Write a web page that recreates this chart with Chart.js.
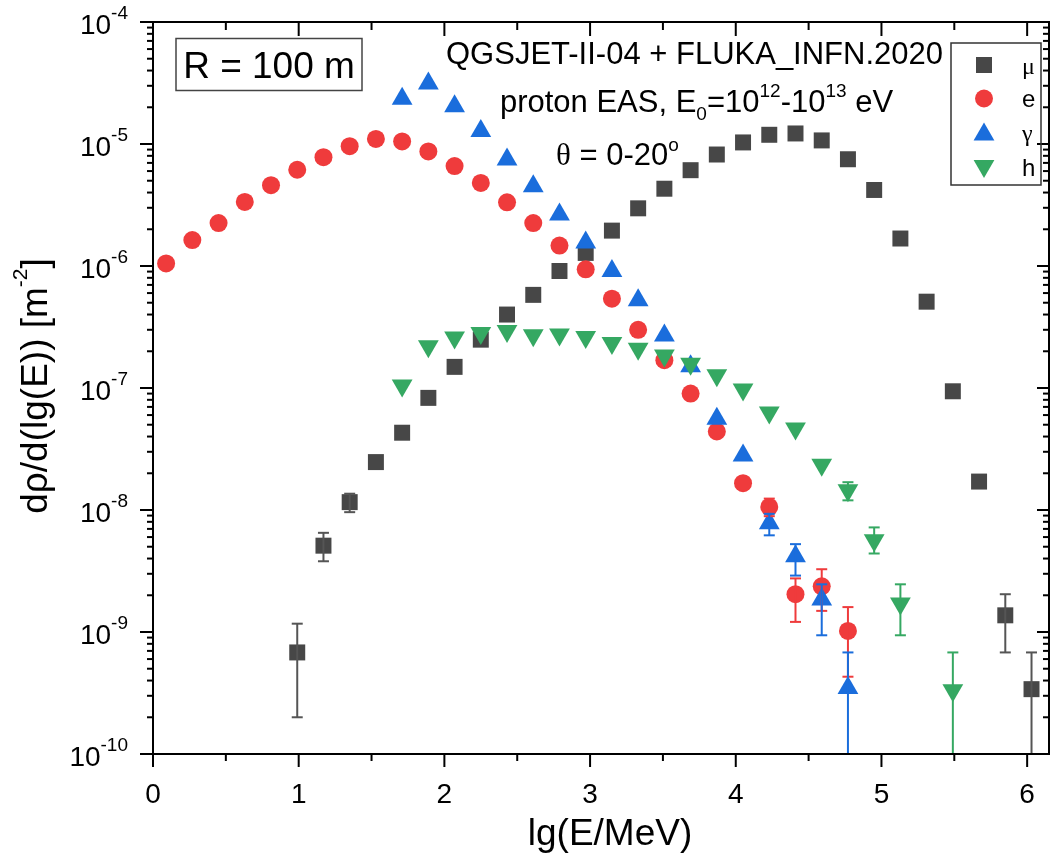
<!DOCTYPE html>
<html>
<head>
<meta charset="utf-8">
<title>Particle energy spectra, R = 100 m</title>
<script src="https://cdn.jsdelivr.net/npm/chart.js@4.4.1/dist/chart.umd.min.js"></script>
<style>
  html, body { margin: 0; padding: 0; background: #ffffff; }
  #wrap { width: 1061px; height: 862px; }
</style>
</head>
<body>
<div id="wrap"><canvas id="spectra" width="1061" height="862"></canvas></div>
<script>
// ---- data: lg(E/MeV) bin centres and dρ/d(lg E) [m^-2] per component ----
const muLgE = [0.99, 1.17, 1.35, 1.53, 1.71, 1.89, 2.07, 2.25, 2.43, 2.61, 2.79, 2.97, 3.15, 3.33, 3.51,
               3.69, 3.87, 4.05, 4.23, 4.41, 4.59, 4.77, 4.95, 5.13, 5.31, 5.49, 5.67, 5.85, 6.03];
const muDensity = [6.8e-10, 5.1e-9, 1.16e-8, 2.47e-8, 4.3e-8, 8.3e-8, 1.49e-7, 2.49e-7, 4.0e-7, 5.8e-7,
                   9.1e-7, 1.28e-6, 1.95e-6, 2.97e-6, 4.3e-6, 6.1e-6, 8.2e-6, 1.03e-5, 1.19e-5, 1.22e-5,
                   1.07e-5, 7.5e-6, 4.2e-6, 1.68e-6, 5.1e-7, 9.4e-8, 1.71e-8, 1.37e-9, 3.4e-10];

const eLgE = [0.09, 0.27, 0.45, 0.63, 0.81, 0.99, 1.17, 1.35, 1.53, 1.71, 1.89, 2.07, 2.25, 2.43,
              2.61, 2.79, 2.97, 3.15, 3.33, 3.51, 3.69, 3.87, 4.05, 4.23, 4.41, 4.59, 4.77];
const eDensity = [1.05e-6, 1.63e-6, 2.25e-6, 3.35e-6, 4.6e-6, 6.15e-6, 7.8e-6, 9.6e-6, 1.1e-5, 1.05e-5,
                  8.7e-6, 6.6e-6, 4.8e-6, 3.33e-6, 2.25e-6, 1.47e-6, 9.4e-7, 5.4e-7, 3.0e-7, 1.69e-7,
                  9.0e-8, 4.4e-8, 1.66e-8, 1.06e-8, 2.04e-9, 2.37e-9, 1.02e-9];

const gammaLgE = [1.71, 1.89, 2.07, 2.25, 2.43, 2.61, 2.79, 2.97, 3.15, 3.33, 3.51, 3.69, 3.87, 4.05,
                  4.23, 4.41, 4.59, 4.77];
const gammaDensity = [2.35e-5, 3.13e-5, 2.04e-5, 1.28e-5, 7.45e-6, 4.5e-6, 2.64e-6, 1.56e-6, 9.1e-7,
                      5.24e-7, 2.69e-7, 1.51e-7, 5.6e-8, 2.8e-8, 7.8e-9, 4.17e-9, 1.85e-9, 3.47e-10];

const hLgE = [1.71, 1.89, 2.07, 2.25, 2.43, 2.61, 2.79, 2.97, 3.15, 3.33, 3.51, 3.69, 3.87, 4.05,
              4.23, 4.41, 4.59, 4.77, 4.95, 5.13, 5.49];
const hDensity = [1.05e-7, 2.2e-7, 2.59e-7, 2.83e-7, 2.93e-7, 2.7e-7, 2.75e-7, 2.62e-7, 2.34e-7, 2.1e-7,
                  1.85e-7, 1.58e-7, 1.27e-7, 9.7e-8, 6.3e-8, 4.65e-8, 2.35e-8, 1.45e-8, 5.64e-9, 1.71e-9,
                  3.33e-10];

// statistical error bars (low = 0: the bar runs below the axis)
const muErrLgE  = [0.99, 1.17, 1.35, 5.85, 6.03];
const muErrLow  = [2.0e-10, 3.8e-9, 9.6e-9, 6.8e-10, 0];
const muErrHigh = [1.17e-9, 6.5e-9, 1.36e-8, 2.04e-9, 6.8e-10];

const eErrLgE  = [4.23, 4.41, 4.59, 4.77];
const eErrLow  = [8.9e-9, 1.21e-9, 1.49e-9, 4.3e-10];
const eErrHigh = [1.24e-8, 2.75e-9, 3.27e-9, 1.6e-9];

const gammaErrLgE  = [4.23, 4.41, 4.59, 4.77];
const gammaErrLow  = [6.2e-9, 2.9e-9, 9.4e-10, 0];
const gammaErrHigh = [9.3e-9, 5.25e-9, 2.46e-9, 6.8e-10];

const hErrLgE  = [4.77, 4.95, 5.13, 5.49];
const hErrLow  = [1.2e-8, 4.4e-9, 9.4e-10, 0];
const hErrHigh = [1.69e-8, 7.2e-9, 2.46e-9, 6.8e-10];

// axis ticks
const xTickValues = [0, 1, 2, 3, 4, 5, 6];
const yTickExponents = [-10, -9, -8, -7, -6, -5, -4];

// ---- styling ----
const SANS = '"Liberation Sans", Arial, Helvetica, sans-serif';
const SERIF = '"Liberation Serif", "Times New Roman", serif';
const COL_MU = '#474747';
const COL_E = '#ef3b3c';
const COL_G = '#1a6ddc';
const COL_H = '#35a862';

const series = [
  { label: 'μ', x: muLgE, y: muDensity, color: COL_MU, style: 'rect', radius: 11.3, rotation: 0, order: 4,
    err: { x: muErrLgE, lo: muErrLow, hi: muErrHigh }, barColor: '#555555' },
  { label: 'e', x: eLgE, y: eDensity, color: COL_E, style: 'circle', radius: 9, rotation: 0, order: 3,
    err: { x: eErrLgE, lo: eErrLow, hi: eErrHigh }, barColor: COL_E },
  { label: 'γ', x: gammaLgE, y: gammaDensity, color: COL_G, style: 'triangle', radius: 12, rotation: 0, order: 2,
    err: { x: gammaErrLgE, lo: gammaErrLow, hi: gammaErrHigh }, barColor: COL_G },
  { label: 'h', x: hLgE, y: hDensity, color: COL_H, style: 'triangle', radius: 12, rotation: 180, order: 1,
    err: { x: hErrLgE, lo: hErrLow, hi: hErrHigh }, barColor: COL_H }
];

// ---- rich text (super/subscripts) ----
function layoutRich(ctx, parts, size) {
  let w = 0;
  const items = parts.map(p => {
    const fs = p.size || size;
    const font = `${fs}px ${p.serif ? SERIF : SANS}`;
    ctx.font = font;
    const width = ctx.measureText(p.t).width;
    const it = { t: p.t, font, dx: w, dy: p.dy || 0 };
    w += width;
    return it;
  });
  return { items, width: w };
}
function drawRich(ctx, parts, size, x, y, align) {
  const L = layoutRich(ctx, parts, size);
  const x0 = align === 'center' ? x - L.width / 2 : align === 'right' ? x - L.width : x;
  ctx.textAlign = 'left';
  ctx.textBaseline = 'alphabetic';
  for (const it of L.items) {
    ctx.font = it.font;
    ctx.fillText(it.t, x0 + it.dx, y + it.dy);
  }
}
function line(ctx, x1, y1, x2, y2) {
  ctx.beginPath(); ctx.moveTo(x1, y1); ctx.lineTo(x2, y2); ctx.stroke();
}

// ---- error bars, drawn over the markers ----
const errorBars = {
  id: 'errorBars',
  afterDatasetsDraw(chart) {
    const { ctx, chartArea: a, scales: { x, y } } = chart;
    ctx.save();
    ctx.beginPath();
    ctx.rect(a.left, a.top, a.right - a.left, a.bottom - a.top);
    ctx.clip();
    ctx.lineWidth = 2;
    ctx.lineCap = 'butt';
    for (const s of series) {
      ctx.strokeStyle = s.barColor;
      s.err.x.forEach((xv, i) => {
        const px = x.getPixelForValue(xv);
        const pHi = y.getPixelForValue(s.err.hi[i]);
        const lowVal = s.err.lo[i];
        const pLo = lowVal > 0 ? y.getPixelForValue(lowVal) : a.bottom + 5;
        line(ctx, px, pHi, px, pLo);
        line(ctx, px - 5.5, pHi, px + 5.5, pHi);
        if (lowVal > 0) line(ctx, px - 5.5, pLo, px + 5.5, pLo);
      });
    }
    ctx.restore();
  }
};

// ---- frame, ticks, labels, annotations, legend ----
const decorations = {
  id: 'decorations',
  afterDraw(chart) {
    const { ctx, chartArea: a, scales: { x, y } } = chart;
    ctx.save();
    ctx.strokeStyle = '#000';
    ctx.fillStyle = '#000';
    ctx.lineWidth = 2;
    ctx.strokeRect(a.left, a.top, a.right - a.left, a.bottom - a.top);

    // x ticks: majors at integers, minors at halves; outward at bottom, inward at top
    for (let k = 0; k <= 12; k++) {
      const v = k / 2;
      const px = x.getPixelForValue(v);
      const L = k % 2 === 0 ? 13 : 7;
      line(ctx, px, a.bottom, px, a.bottom + L);
      line(ctx, px, a.top, px, a.top + L + 1);
    }
    // y ticks: decades and 2..9 minors; outward on the left, inward on the right
    for (const e of yTickExponents) {
      const base = Math.pow(10, e);
      const py = y.getPixelForValue(base);
      line(ctx, a.left, py, a.left - 13, py);
      line(ctx, a.right, py, a.right - 12, py);
      if (e < -4) {
        for (let m = 2; m <= 9; m++) {
          const pm = y.getPixelForValue(m * base);
          line(ctx, a.left, pm, a.left - 6, pm);
          line(ctx, a.right, pm, a.right - 6, pm);
        }
      }
    }

    // x tick labels
    ctx.font = `28px ${SANS}`;
    ctx.textAlign = 'center';
    ctx.textBaseline = 'alphabetic';
    for (const v of xTickValues) {
      ctx.fillText(String(v), x.getPixelForValue(v), 803);
    }
    // y tick labels 10^n
    for (const e of yTickExponents) {
      const py = y.getPixelForValue(Math.pow(10, e));
      drawRich(ctx, [{ t: '10' }, { t: String(e), size: 19, dy: -15 }], 28, 128, py + 12, 'right');
    }

    // axis titles
    drawRich(ctx, [{ t: 'lg(E/MeV)' }], 37, 610, 845, 'center');
    ctx.save();
    ctx.translate(47, 386);
    ctx.rotate(-Math.PI / 2);
    drawRich(ctx, [{ t: 'dρ/d(lg(E)) [m' }, { t: '-2', size: 21, dy: -20 }, { t: ']' }], 37, 0, 0, 'center');
    ctx.restore();

    // radius box
    ctx.lineWidth = 1.5;
    ctx.strokeStyle = '#444';
    ctx.strokeRect(176, 38.5, 186, 52);
    drawRich(ctx, [{ t: 'R = 100 m' }], 37, 269, 77.5, 'center');

    // simulation description
    drawRich(ctx, [{ t: 'QGSJET-II-04 + FLUKA_INFN.2020' }], 31, 694.5, 64, 'center');
    drawRich(ctx, [
      { t: 'proton EAS, E' }, { t: '0', size: 19, dy: 8 }, { t: '=10' }, { t: '12', size: 19, dy: -15 },
      { t: '-10' }, { t: '13', size: 19, dy: -15 }, { t: ' eV' }
    ], 31, 696.5, 112, 'center');
    drawRich(ctx, [{ t: 'θ', serif: true }, { t: ' = 0-20' }, { t: 'o', size: 19, dy: -14 }], 31, 617.5, 165, 'center');

    // legend
    ctx.lineWidth = 1.5;
    ctx.strokeStyle = '#333';
    ctx.strokeRect(951, 43, 90, 142);
    const legendMarkY = [65, 98.5, 134.5, 166];
    const legendTextY = [74, 107, 141, 176];
    series.forEach((s, i) => {
      ctx.fillStyle = s.color;
      ctx.strokeStyle = s.color;
      Chart.helpers.drawPoint(ctx, { pointStyle: s.style, radius: s.radius, rotation: s.rotation, borderWidth: 0 },
        984, legendMarkY[i]);
      ctx.fillStyle = '#000';
      const isGreek = s.label === 'μ' || s.label === 'γ';
      ctx.font = `24px ${isGreek ? SERIF : SANS}`;
      ctx.textAlign = 'left';
      ctx.textBaseline = 'alphabetic';
      ctx.fillText(s.label, 1022, legendTextY[i]);
    });
    ctx.restore();
  }
};

new Chart(document.getElementById('spectra'), {
  type: 'scatter',
  data: {
    datasets: series.map(s => ({
      label: s.label,
      data: s.x.map((xv, i) => ({ x: xv, y: s.y[i] })),
      pointStyle: s.style,
      pointRadius: s.radius,
      pointRotation: s.rotation,
      pointBackgroundColor: s.color,
      pointBorderColor: s.color,
      pointBorderWidth: 0,
      showLine: false,
      order: s.order
    }))
  },
  options: {
    responsive: false,
    animation: false,
    events: [],
    layout: { padding: { top: 22, right: 2, left: 0, bottom: 0 } },
    plugins: { legend: { display: false }, tooltip: { enabled: false } },
    scales: {
      x: {
        type: 'linear', min: 0, max: 6.15,
        grid: { display: false }, border: { display: false }, ticks: { display: false },
        afterFit(scale) { scale.height = 108; }
      },
      y: {
        type: 'logarithmic', min: 1e-10, max: 1e-4,
        grid: { display: false }, border: { display: false }, ticks: { display: false },
        afterFit(scale) { scale.width = 153; }
      }
    }
  },
  plugins: [errorBars, decorations]
});
</script>
</body>
</html>
